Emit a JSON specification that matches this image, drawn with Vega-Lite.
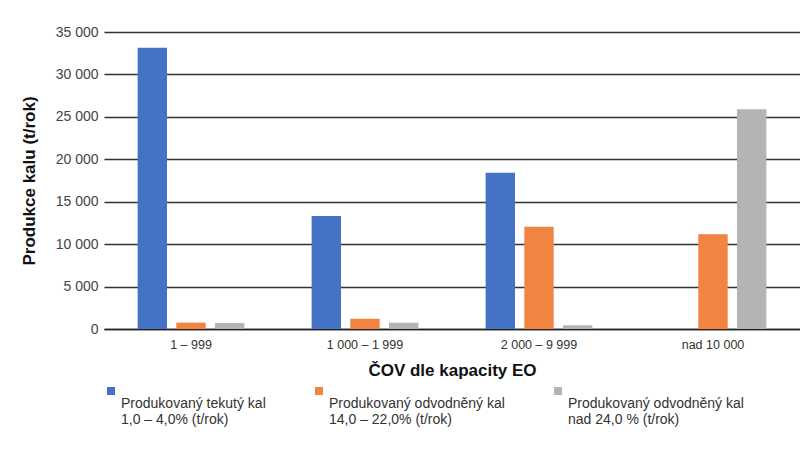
{
  "$schema": "https://vega.github.io/schema/vega-lite/v6.json",
  "width": 696,
  "height": 297,
  "padding": {"left": 20, "top": 25, "right": 0, "bottom": 0},
  "background": "white",
  "config": {
    "font": "Liberation Sans",
    "view": {"stroke": null}
  },
  "data": {
    "values": [
      {"kap": "1 – 999", "typ": "tekuty", "val": 33150},
      {"kap": "1 – 999", "typ": "odv14", "val": 750},
      {"kap": "1 – 999", "typ": "odv24", "val": 700},
      {"kap": "1 000 – 1 999", "typ": "tekuty", "val": 13320},
      {"kap": "1 000 – 1 999", "typ": "odv14", "val": 1210},
      {"kap": "1 000 – 1 999", "typ": "odv24", "val": 740},
      {"kap": "2 000 – 9 999", "typ": "tekuty", "val": 18420},
      {"kap": "2 000 – 9 999", "typ": "odv14", "val": 12060},
      {"kap": "2 000 – 9 999", "typ": "odv24", "val": 440},
      {"kap": "nad 10 000", "typ": "tekuty", "val": 0},
      {"kap": "nad 10 000", "typ": "odv14", "val": 11160},
      {"kap": "nad 10 000", "typ": "odv24", "val": 25890}
    ]
  },
  "mark": {"type": "bar"},
  "encoding": {
    "x": {
      "field": "kap",
      "type": "nominal",
      "sort": ["1 – 999", "1 000 – 1 999", "2 000 – 9 999", "nad 10 000"],
      "scale": {"paddingInner": 0, "paddingOuter": 0},
      "axis": {
        "title": "ČOV dle kapacity EO",
        "titleFontSize": 17,
        "titleFontWeight": "bold",
        "titleColor": "#111",
        "titlePadding": 12,
        "labelAngle": 0,
        "labelFontSize": 12.5,
        "labelColor": "#333",
        "labelPadding": 9,
        "ticks": false,
        "domainColor": "#222",
        "domainWidth": 1.5
      }
    },
    "xOffset": {
      "field": "typ",
      "type": "nominal",
      "sort": ["tekuty", "odv14", "odv24"],
      "scale": {"paddingInner": 0.24, "paddingOuter": 0.87}
    },
    "y": {
      "field": "val",
      "type": "quantitative",
      "scale": {"domain": [0, 35000], "nice": false},
      "axis": {
        "title": "Produkce kalu (t/rok)",
        "titleFontSize": 17,
        "titleFontWeight": "bold",
        "titleColor": "#111",
        "titlePadding": 17,
        "values": [0, 5000, 10000, 15000, 20000, 25000, 30000, 35000],
        "labelExpr": "replace(format(datum.value, ','), ',', ' ')",
        "labelFontSize": 14,
        "labelColor": "#444",
        "labelPadding": 6,
        "ticks": false,
        "domain": false,
        "grid": true,
        "gridColor": "#333",
        "gridWidth": 1.3
      }
    },
    "color": {
      "field": "typ",
      "type": "nominal",
      "sort": ["tekuty", "odv14", "odv24"],
      "scale": {
        "domain": ["tekuty", "odv14", "odv24"],
        "range": ["#4472C4", "#F08440", "#B4B4B4"]
      },
      "legend": {
        "title": null,
        "orient": "bottom",
        "direction": "horizontal",
        "offset": 5,
        "padding": 0,
        "symbolType": "square",
        "symbolSize": 64,
        "symbolStrokeWidth": 0,
        "labelFontSize": 14,
        "labelColor": "#333",
        "labelBaseline": "top",
        "labelOffset": 3,
        "labelLimit": 300,
        "columnPadding": 46,
        "labelExpr": "datum.label == 'tekuty' ? ['Produkovaný tekutý kal', '1,0 – 4,0% (t/rok)'] : datum.label == 'odv14' ? ['Produkovaný odvodněný kal', '14,0 – 22,0% (t/rok)'] : ['Produkovaný odvodněný kal', 'nad 24,0 % (t/rok)']",
        "encode": {"labels": {"update": {"dy": {"value": 6}}}}
      }
    }
  }
}
